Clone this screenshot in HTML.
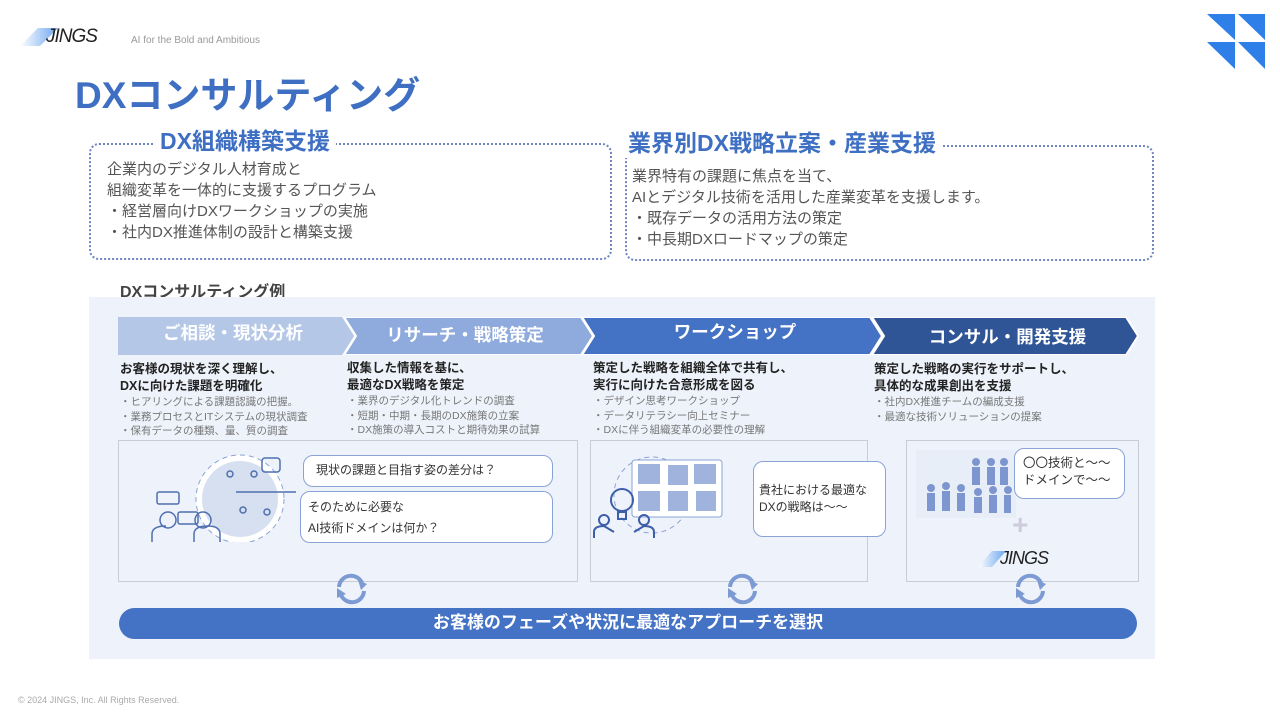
<!DOCTYPE html>
<html><head><meta charset="utf-8">
<style>
*{margin:0;padding:0;box-sizing:border-box}
body{width:1280px;height:720px;background:#fff;position:relative;overflow:hidden;font-family:"Liberation Sans","Noto Sans CJK JP",sans-serif}
.a{position:absolute;white-space:nowrap}
.box{position:absolute;border:2px dotted #6f86c4;border-radius:10px}
.h2{position:absolute;background:#fff;color:#3e6fc2;font-weight:bold;font-size:23px;padding:0 6px;line-height:30px}
.t14{font-size:15px;color:#555;line-height:21px}
.ch{position:absolute;top:317px;height:38px;color:#fff;font-weight:bold;font-size:17.5px;line-height:38px;text-align:center}
.d b{font-size:12.5px;color:#222;display:block;line-height:17px}
.d span{font-size:10.5px;color:#777;display:block;line-height:14.5px}
.ib{position:absolute;top:440px;height:142px;border:1.5px solid #c9ccd3;background:#eef3fb}
.bub{position:absolute;background:#fff;border:1.3px solid #8aa3d6;border-radius:10px;font-size:12px;color:#333}
</style></head><body>
<svg class="a" style="left:20px;top:26px" width="40" height="22"><defs><linearGradient id="g" x1="0" x2="1"><stop offset="0" stop-color="#fff"/><stop offset="1" stop-color="#6ea6ef"/></linearGradient></defs><polygon points="0,20 18,2 38,2 20,20" fill="url(#g)"/></svg>
<div class="a" style="left:46px;top:26px;font-size:19px;color:#222;letter-spacing:-1px;font-style:italic">JINGS</div>
<div class="a" style="left:131px;top:35px;font-size:10px;color:#999">AI for the Bold and Ambitious</div>
<svg class="a" style="left:1205px;top:12px" width="64" height="60"><polygon points="2,2 30,2 30,28" fill="#2f7fe8"/><polygon points="33,2 60,2 60,28" fill="#2f7fe8"/><polygon points="2,30 30,30 30,57" fill="#2f7fe8"/><polygon points="33,30 60,30 60,57" fill="#2f7fe8"/></svg>
<div class="a" style="left:75px;top:73px;font-size:37px;font-weight:bold;color:#3e6fc2;line-height:46px">DXコンサルティング</div>

<div class="box" style="left:89px;top:143px;width:523px;height:117px"></div>
<div class="h2" style="left:154px;top:126px">DX組織構築支援</div>
<div class="a t14" style="left:107px;top:159px">企業内のデジタル人材育成と<br>組織変革を一体的に支援するプログラム<br>・経営層向けDXワークショップの実施<br>・社内DX推進体制の設計と構築支援</div>

<div class="box" style="left:625px;top:145px;width:529px;height:116px"></div>
<div class="h2" style="left:622px;top:128px">業界別DX戦略立案・産業支援</div>
<div class="a t14" style="left:632px;top:166px">業界特有の課題に焦点を当て、<br>AIとデジタル技術を活用した産業変革を支援します。<br>・既存データの活用方法の策定<br>・中長期DXロードマップの策定</div>

<div class="a" style="left:120px;top:278px;font-size:16px;font-weight:bold;color:#444">DXコンサルティング例</div>
<div class="a" style="left:89px;top:297px;width:1066px;height:362px;background:#eef3fb"></div>

<svg class="a" style="left:118px;top:317px" width="1022" height="38">
<polygon points="0,0 224,0 236,19 224,38 0,38" fill="#b4c7e7"/>
<polygon points="226,0 463,0 475,19 463,38 226,38 238,19" fill="#8faadc" stroke="#fff" stroke-width="2"/>
<polygon points="464,0 752,0 764,19 752,38 464,38 476,19" fill="#4472c4" stroke="#fff" stroke-width="2"/>
<polygon points="754,0 1008,0 1020,19 1008,38 754,38 766,19" fill="#2f5597" stroke="#fff" stroke-width="2"/>
</svg>
<div class="ch" style="left:118px;width:230px;top:314px">ご相談・現状分析</div>
<div class="ch" style="left:355px;width:220px;top:316px">リサーチ・戦略策定</div>
<div class="ch" style="left:600px;width:270px;top:313px">ワークショップ</div>
<div class="ch" style="left:885px;width:245px;top:318px">コンサル・開発支援</div>

<div class="a d" style="left:120px;top:361px"><b>お客様の現状を深く理解し、</b><b>DXに向けた課題を明確化</b><span>・ヒアリングによる課題認識の把握。</span><span>・業務プロセスとITシステムの現状調査</span><span>・保有データの種類、量、質の調査</span></div>
<div class="a d" style="left:347px;top:360px"><b>収集した情報を基に、</b><b>最適なDX戦略を策定</b><span>・業界のデジタル化トレンドの調査</span><span>・短期・中期・長期のDX施策の立案</span><span>・DX施策の導入コストと期待効果の試算</span></div>
<div class="a d" style="left:593px;top:360px"><b>策定した戦略を組織全体で共有し、</b><b>実行に向けた合意形成を図る</b><span>・デザイン思考ワークショップ</span><span>・データリテラシー向上セミナー</span><span>・DXに伴う組織変革の必要性の理解</span></div>
<div class="a d" style="left:874px;top:361px"><b>策定した戦略の実行をサポートし、</b><b>具体的な成果創出を支援</b><span>・社内DX推進チームの編成支援</span><span>・最適な技術ソリューションの提案</span></div>

<div class="ib" style="left:118px;width:460px"></div>
<div class="ib" style="left:590px;width:278px"></div>
<div class="ib" style="left:906px;width:233px"></div>

<svg class="a" style="left:140px;top:452px" width="160" height="90">
<circle cx="100" cy="47" r="44" fill="#fff" stroke="#8aa3d6" stroke-dasharray="5 4"/>
<circle cx="100" cy="47" r="38" fill="#d6e0f0"/>
<g fill="none" stroke="#4f6fb0" stroke-width="1.5">
<rect x="17" y="40" width="22" height="12" rx="2"/><rect x="38" y="60" width="20" height="12" rx="2"/>
<circle cx="28" cy="68" r="8"/><circle cx="63" cy="68" r="8"/>
<path d="M12 90 v-8 q0-8 14-8 M54 90 v-8 q0-8 14-8 q12 0 12 8 v8"/>
<path d="M96 40 h60" /><circle cx="90" cy="22" r="3"/><circle cx="114" cy="22" r="3"/><circle cx="103" cy="58" r="3"/><circle cx="127" cy="60" r="3"/>
<rect x="122" y="6" width="18" height="14" rx="3"/>
</g></svg>
<div class="bub" style="left:303px;top:455px;width:250px;height:32px;line-height:29px;padding-left:12px">現状の課題と目指す姿の差分は？</div>
<div class="bub" style="left:300px;top:491px;width:253px;height:52px;padding:5px 0 0 7px;line-height:21px">そのために必要な<br>AI技術ドメインは何か？</div>

<svg class="a" style="left:592px;top:455px" width="140" height="85">
<circle cx="60" cy="40" r="38" fill="none" stroke="#8aa3d6" stroke-dasharray="5 4"/>
<rect x="40" y="5" width="90" height="57" rx="3" fill="#fff" stroke="#8aa3d6"/>
<g fill="#9fb3dd"><rect x="46" y="9" width="22" height="20"/><rect x="76" y="10" width="20" height="20"/><rect x="102" y="9" width="22" height="20"/><rect x="46" y="36" width="22" height="20"/><rect x="76" y="36" width="20" height="20"/><rect x="104" y="36" width="20" height="20"/></g>
<g fill="none" stroke="#3d5ea8" stroke-width="2"><circle cx="30" cy="45" r="11"/><rect x="26" y="57" width="8" height="7"/><circle cx="12" cy="65" r="5"/><circle cx="52" cy="65" r="5"/><path d="M2 83 v-6 q0-6 10-6 l10 6 M62 83 v-6 q0-6-10-6 l-10 6"/></g></svg>
<div class="bub" style="left:753px;top:461px;width:133px;height:76px;padding:20px 0 0 5px;line-height:17px">貴社における最適な<br>DXの戦略は～～</div>

<svg class="a" style="left:916px;top:450px" width="100" height="68"><rect width="100" height="68" fill="#e8eef8"/>
<g fill="#7d96cf"><circle cx="15" cy="38" r="4"/><rect x="11" y="43" width="8" height="18"/><circle cx="30" cy="36" r="4"/><rect x="26" y="41" width="8" height="20"/><circle cx="45" cy="38" r="4"/><rect x="41" y="43" width="8" height="18"/><circle cx="60" cy="12" r="4"/><rect x="56" y="17" width="8" height="18"/><circle cx="75" cy="12" r="4"/><rect x="71" y="17" width="8" height="18"/><circle cx="88" cy="12" r="4"/><rect x="84" y="17" width="8" height="18"/><circle cx="62" cy="42" r="4"/><rect x="58" y="47" width="8" height="16"/><circle cx="77" cy="40" r="4"/><rect x="73" y="45" width="8" height="18"/><circle cx="92" cy="40" r="4"/><rect x="88" y="45" width="7" height="18"/></g></svg>
<div class="bub" style="left:1014px;top:448px;width:111px;height:51px;padding:6px 0 0 8px;line-height:17px;font-size:12.5px">〇〇技術と～～<br>ドメインで～～</div>
<div class="a" style="left:1012px;top:510px;font-size:28px;font-weight:bold;color:#ccd;line-height:30px">+</div>
<svg class="a" style="left:978px;top:550px" width="30" height="18"><polygon points="0,17 14,1 28,1 14,17" fill="url(#g)"/></svg>
<div class="a" style="left:1000px;top:548px;font-size:18px;color:#222;font-style:italic;letter-spacing:-1px">JINGS</div>

<svg class="a" style="left:334px;top:572px" width="36" height="34"><g fill="none" stroke="#7d9ad3" stroke-width="4"><path d="M5 15 a12 12 0 0 1 23-4"/><path d="M30 19 a12 12 0 0 1 -23 4"/></g><polygon points="24,8 33,12 27,18" fill="#7d9ad3"/><polygon points="3,16 12,22 3,26" fill="#7d9ad3"/></svg>
<svg class="a" style="left:725px;top:572px" width="36" height="34"><g fill="none" stroke="#7d9ad3" stroke-width="4"><path d="M5 15 a12 12 0 0 1 23-4"/><path d="M30 19 a12 12 0 0 1 -23 4"/></g><polygon points="24,8 33,12 27,18" fill="#7d9ad3"/><polygon points="3,16 12,22 3,26" fill="#7d9ad3"/></svg>
<svg class="a" style="left:1013px;top:572px" width="36" height="34"><g fill="none" stroke="#7d9ad3" stroke-width="4"><path d="M5 15 a12 12 0 0 1 23-4"/><path d="M30 19 a12 12 0 0 1 -23 4"/></g><polygon points="24,8 33,12 27,18" fill="#7d9ad3"/><polygon points="3,16 12,22 3,26" fill="#7d9ad3"/></svg>

<div class="a" style="left:119px;top:608px;width:1018px;height:31px;border-radius:16px;background:#4472c4;color:#fff;font-weight:bold;font-size:17px;line-height:30px;text-align:center">お客様のフェーズや状況に最適なアプローチを選択</div>
<div class="a" style="left:18px;top:695px;font-size:9px;color:#aaa">© 2024 JINGS, Inc. All Rights Reserved.</div>
</body></html>
